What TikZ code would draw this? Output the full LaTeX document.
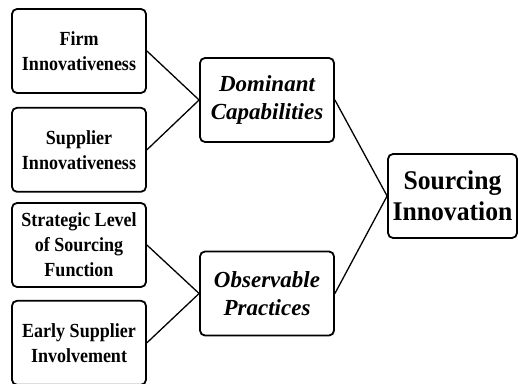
\documentclass[tikz,border=0pt]{standalone}
\usepackage{fontspec}
\setmainfont{Liberation Serif}
\newfontfamily\boxfont[FakeStretch=0.9]{Liberation Serif}
\newfontfamily\constructfont[FakeStretch=1.0]{Liberation Serif}
\newfontfamily\outcomefont[FakeStretch=0.95]{Liberation Serif}
\usepackage{tikz}
\usetikzlibrary{positioning}

\begin{document}
\begin{tikzpicture}[
    x = 1pt, y = 1pt,
    box/.style = {draw, line width = 1.8pt, rounded corners = 5pt,
      align = center, minimum width = 134pt, minimum height = 84pt,
      inner sep = 2pt, font = \boxfont\fontsize{20}{25}\selectfont\bfseries},
    construct/.style = {box,
      font = \constructfont\fontsize{23}{28}\selectfont\bfseries\itshape},
    outcome/.style = {box, minimum width = 129pt,
      font = \outcomefont\fontsize{27}{31}\selectfont\bfseries},
    link/.style = {line width = 1.3pt},
  ]
  \useasboundingbox (0,0) rectangle (518,383);

  % Antecedents
  \node[box] (firm) at (79,332) {Firm\\Innovativeness};
  \node[box, below = 13pt of firm] (supplier) {Supplier\\Innovativeness};
  \node[box] (strategic) at (79,138) {Strategic Level\\of Sourcing\\Function};
  \node[box, below = 12pt of strategic] (early) {Early Supplier\\Involvement};

  % Constructs
  \node[construct] (dominant) at (267,283) {Dominant\\Capabilities};
  \node[construct] (observable) at (267,89.5) {Observable\\Practices};

  % Outcome
  \node[outcome] (sourcing) at (452.5,187) {Sourcing\\Innovation};

  \draw[link] (firm.east) -- (dominant.west);
  \draw[link] (supplier.east) -- (dominant.west);
  \draw[link] (strategic.east) -- (observable.west);
  \draw[link] (early.east) -- (observable.west);
  \draw[link] (dominant.east) -- (sourcing.west);
  \draw[link] (observable.east) -- (sourcing.west);
\end{tikzpicture}
\end{document}
